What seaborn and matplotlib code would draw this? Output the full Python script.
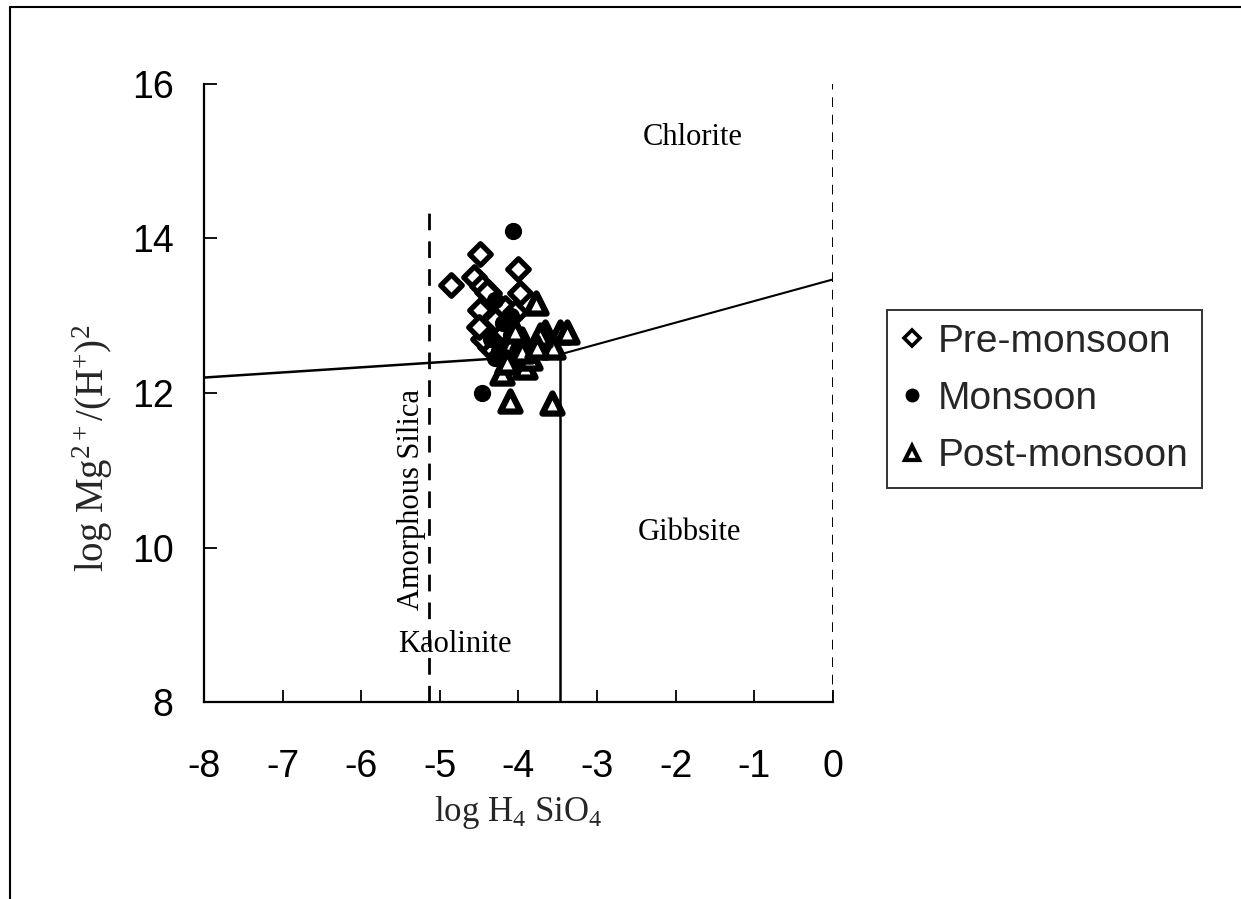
import matplotlib
matplotlib.use("Agg")
import matplotlib.pyplot as plt
from matplotlib.lines import Line2D
import seaborn as sns
import pandas as pd

sns.set_theme(style="white")
plt.rcParams["font.family"] = ["Liberation Sans", "DejaVu Sans"]
plt.rcParams["axes.unicode_minus"] = False
plt.rcParams["mathtext.fontset"] = "custom"
plt.rcParams["mathtext.rm"] = "Liberation Serif"
plt.rcParams["mathtext.it"] = "Liberation Serif:italic"

# Sample data: log H4SiO4 (x) vs log Mg2+/(H+)^2 (y)
pre_x = [-4.86, -4.49, -4.00, -3.98, -4.57, -4.47, -4.37, -4.40, -4.17,
         -4.49, -4.28, -4.21, -4.36, -4.45, -4.30, -4.12, -4.05, -4.50]
pre_y = [13.40, 13.80, 13.60, 13.30, 13.50, 13.38, 13.29, 13.31, 13.10,
         13.07, 12.88, 12.82, 12.60, 12.70, 12.95, 12.60, 13.05, 12.85]

mon_x = [-4.07, -4.46, -4.30, -4.20, -4.10, -4.35, -4.25, -4.00, -4.15, -4.30, -4.10]
mon_y = [14.10, 12.00, 13.20, 12.90, 12.75, 12.70, 12.55, 12.60, 12.45, 12.45, 13.00]

post_x = [-3.78, -3.66, -3.47, -3.38, -3.68, -3.56, -4.21, -3.92, -4.11,
          -3.58, -3.73, -4.00, -4.10, -3.95, -4.15, -3.85, -4.05, -3.95, -3.77]
post_y = [13.16, 12.79, 12.79, 12.79, 12.62, 12.60, 12.26, 12.34, 11.89,
          11.87, 12.75, 12.50, 12.65, 12.70, 12.40, 12.45, 12.80, 12.55, 12.60]

seasons = ["Pre-monsoon", "Monsoon", "Post-monsoon"]

# Stability field boundaries
kao_chl_x = [-8.0, -3.47]
kao_chl_y = [12.2, 12.5]
gib_chl_x = [-3.47, 0.0]
gib_chl_y = [12.5, 13.47]
kao_gib_x = [-3.47, -3.47]
kao_gib_y = [8.0, 12.5]
silica_x = [-5.14, -5.14]
silica_y = [8.0, 14.35]
quartz_x = [0.0, 0.0]
quartz_y = [8.0, 16.0]

df = pd.DataFrame({
    "x": pre_x + mon_x + post_x,
    "y": pre_y + mon_y + post_y,
    "season": [seasons[0]] * len(pre_x) + [seasons[1]] * len(mon_x) + [seasons[2]] * len(post_x),
})

fig = plt.figure(figsize=(12.41, 8.99), dpi=100)
ax = fig.add_axes([0.1644, 0.2191, 0.5068, 0.6875])

ax.plot(kao_chl_x, kao_chl_y, color="black", lw=1.8)
ax.plot(gib_chl_x, gib_chl_y, color="black", lw=1.5)
ax.plot(kao_gib_x, kao_gib_y, color="black", lw=1.8)
ax.plot(silica_x, silica_y, color="black", lw=2.0, ls=(0, (6, 4)))
ax.plot(quartz_x, quartz_y, color="black", lw=1.4, ls=(0, (5, 4)))

styles = {
    "Pre-monsoon": dict(marker="D", s=120, facecolor="white", edgecolor="black", linewidth=3.8),
    "Monsoon": dict(marker="o", s=130, facecolor="black", edgecolor="black", linewidth=1.0),
    "Post-monsoon": dict(marker="^", s=210, facecolor="white", edgecolor="black", linewidth=4.5),
}
for season in seasons:
    sub = df[df["season"] == season]
    sns.scatterplot(data=sub, x="x", y="y", ax=ax, legend=False, zorder=3,
                    **styles[season])

ax.set_xlim(-8, 0)
ax.set_ylim(8, 16)
ax.set_xticks(range(-8, 1))
ax.set_yticks([8, 10, 12, 14, 16])
ax.tick_params(direction="in", length=9, width=1.3, colors="black",
               labelsize=27, bottom=True, left=True)
ax.tick_params(axis="x", pad=34)
ax.tick_params(axis="y", pad=22)
for side in ["top", "right"]:
    ax.spines[side].set_visible(False)
for side in ["left", "bottom"]:
    ax.spines[side].set_color("black")
    ax.spines[side].set_linewidth(1.6)

ax.set_xlabel(r"log H$_4$ SiO$_4$", fontsize=25, family="Liberation Serif", labelpad=6)
ax.set_ylabel(r"log Mg$^{2+}$/(H$^{+}$)$^{2}$", fontsize=28, family="Liberation Serif")
ax.yaxis.set_label_coords(-0.142, 0.41)

serif = dict(family="Liberation Serif", fontsize=22, color="black", ha="center", va="center")
ax.text(-1.78, 15.31, "Chlorite", **serif)
ax.text(-1.82, 10.19, "Gibbsite", **serif)
ax.text(-4.81, 8.74, "Kaolinite", **serif)
ax.text(-5.36, 10.62, "Amorphous Silica", rotation=90, **serif)

handles = [
    Line2D([], [], ls="none", marker="D", markersize=8, markerfacecolor="white",
           markeredgecolor="black", markeredgewidth=2.6),
    Line2D([], [], ls="none", marker="o", markersize=9, markerfacecolor="black",
           markeredgecolor="black"),
    Line2D([], [], ls="none", marker="^", markersize=10, markerfacecolor="white",
           markeredgecolor="black", markeredgewidth=3.0),
]
leg = fig.legend(handles, seasons, loc="upper left", bbox_to_anchor=(0.7147, 0.6552),
                 fontsize=28, frameon=True, fancybox=False, handlelength=0.6,
                 handletextpad=0.35, borderpad=0.35, labelspacing=0.55,
                 borderaxespad=0)
leg.get_frame().set_edgecolor("black")
leg.get_frame().set_linewidth(1.4)

# Outer frame lines along the top and left of the figure
fig.add_artist(Line2D([0.008, 1.0], [0.992, 0.992], color="black", lw=1.5))
fig.add_artist(Line2D([0.008, 0.008], [0.0, 0.992], color="black", lw=1.5))

fig.savefig("out.png", dpi=100)
